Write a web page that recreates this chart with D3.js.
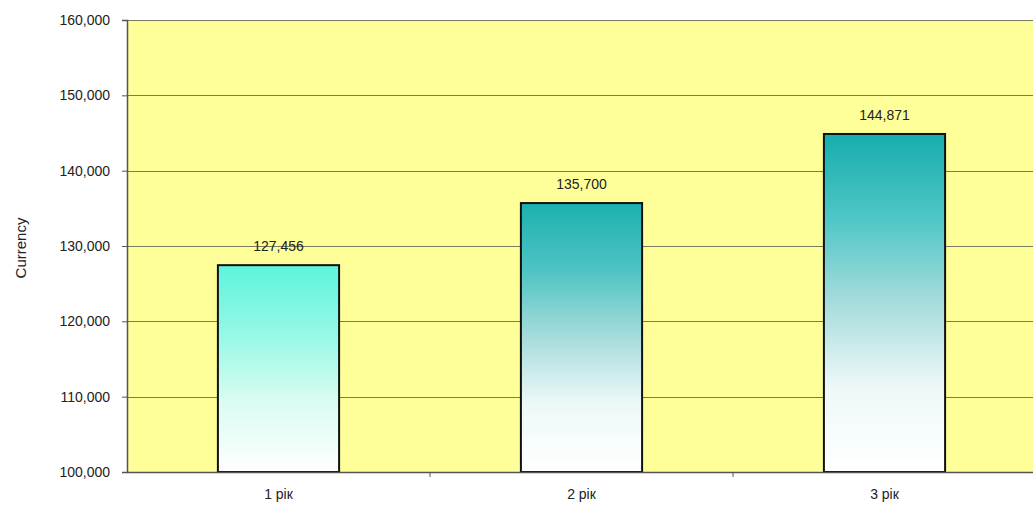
<!DOCTYPE html>
<html>
<head>
<meta charset="utf-8">
<script src="https://cdn.jsdelivr.net/npm/d3@7"></script>
<style>
  body { margin: 0; background: #fff; }
  text { font-family: "Liberation Sans", Arial, sans-serif; fill: #222; }
</style>
</head>
<body>
<div id="chart"></div>
<script>
var WIDTH = 1033;
var HEIGHT = 507;

// Data
var categories = ["1 рік", "2 рік", "3 рік"];
var values = [127456, 135700, 144871];
var yTicks = [100000, 110000, 120000, 130000, 140000, 150000, 160000];

// gradient stops per bar, bottom (0) to top (1)
var barStops = [
    [[0, "#ffffff"], [0.35, "#d8fcf2"], [0.7, "#8ff8e4"], [1, "#5ef4dd"]],
    [[0, "#ffffff"], [0.25, "#eef8f8"], [0.5, "#a8dcdc"], [0.75, "#4fc3c3"], [1, "#1cb0b0"]],
    [[0, "#ffffff"], [0.25, "#eef8f8"], [0.5, "#a8dcdc"], [0.75, "#4fc6c6"], [1, "#17adad"]]
];

var margin = { top: 20, right: -3, bottom: 35, left: 127 };
var plotW = WIDTH - margin.left - margin.right;
var plotH = HEIGHT - margin.top - margin.bottom;

var svg = d3.select("#chart").append("svg")
    .attr("width", WIDTH)
    .attr("height", HEIGHT);

var defs = svg.append("defs");
barStops.forEach(function(stops, i) {
    var grad = defs.append("linearGradient")
        .attr("id", "grad" + i)
        .attr("x1", 0).attr("y1", 1)
        .attr("x2", 0).attr("y2", 0);
    stops.forEach(function(s) {
        grad.append("stop").attr("offset", s[0]).attr("stop-color", s[1]);
    });
});

var x = d3.scaleBand()
    .domain(categories)
    .range([0, plotW])
    .paddingInner(0.6)
    .paddingOuter(0.3);

var y = d3.scaleLinear()
    .domain([100000, 160000])
    .range([plotH, 0]);

var g = svg.append("g")
    .attr("transform", "translate(" + margin.left + "," + margin.top + ")");

// Plot background
g.append("rect")
    .attr("x", 0).attr("y", 0)
    .attr("width", plotW).attr("height", plotH)
    .attr("fill", "#ffff99");

// Gridlines
g.append("g").selectAll("line")
    .data(yTicks)
    .enter().append("line")
    .attr("x1", 0).attr("x2", plotW)
    .attr("y1", function(d) { return Math.round(y(d)) + 0.5; })
    .attr("y2", function(d) { return Math.round(y(d)) + 0.5; })
    .attr("stroke", "#7a7a60")
    .attr("stroke-width", 1);

// Bars
g.append("g").selectAll("rect")
    .data(values)
    .enter().append("rect")
    .attr("x", function(d, i) { return x(categories[i]); })
    .attr("y", function(d) { return y(d); })
    .attr("width", x.bandwidth())
    .attr("height", function(d) { return plotH - y(d); })
    .attr("fill", function(d, i) { return "url(#grad" + i + ")"; })
    .attr("stroke", "#111")
    .attr("stroke-width", 2);

// Value labels
g.append("g").selectAll("text")
    .data(values)
    .enter().append("text")
    .attr("x", function(d, i) { return x(categories[i]) + x.bandwidth() / 2; })
    .attr("y", function(d) { return y(d) - 14; })
    .attr("text-anchor", "middle")
    .attr("font-size", "14px")
    .text(function(d) { return d3.format(",")(d); });

// Y axis
var yAxis = g.append("g")
    .call(d3.axisLeft(y).tickValues(yTicks).tickSize(5).tickPadding(12)
        .tickFormat(d3.format(",")));
yAxis.select(".domain").attr("stroke", "#555").attr("stroke-width", 1.5);
yAxis.selectAll(".tick line").attr("stroke", "#555");
yAxis.selectAll(".tick text").attr("font-size", "14px").attr("fill", "#222");

// X axis
var xAxis = g.append("g")
    .attr("transform", "translate(0," + plotH + ")")
    .call(d3.axisBottom(x).tickSize(0).tickPadding(17));
xAxis.select(".domain").attr("stroke", "#555").attr("stroke-width", 1.5);
xAxis.selectAll(".tick text").attr("font-size", "14px").attr("fill", "#222");

// Category separator ticks
g.append("g").selectAll("line")
    .data(categories.slice(1))
    .enter().append("line")
    .attr("x1", function(d) { return x(d) - x.step() * x.paddingInner() / 2; })
    .attr("x2", function(d) { return x(d) - x.step() * x.paddingInner() / 2; })
    .attr("y1", plotH).attr("y2", plotH + 5)
    .attr("stroke", "#555");

// Y axis title
svg.append("text")
    .attr("transform", "translate(21," + (margin.top + plotH / 2 + 2) + ") rotate(-90)")
    .attr("text-anchor", "middle")
    .attr("dy", "0.35em")
    .attr("font-size", "15px")
    .text("Currency");
</script>
</body>
</html>
